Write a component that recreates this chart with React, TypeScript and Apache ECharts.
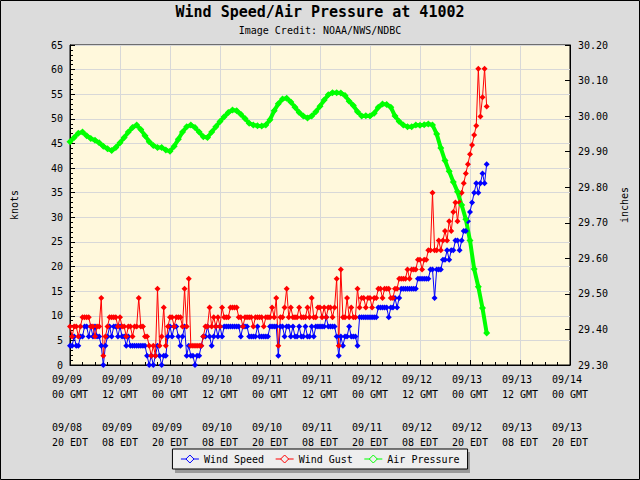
import React, { useEffect, useRef } from "react";
import * as echarts from "echarts";

const gmtDates = ["09/09", "09/09", "09/10", "09/10", "09/11", "09/11", "09/12", "09/12", "09/13", "09/13", "09/14"];
const gmtHours = ["00 GMT", "12 GMT", "00 GMT", "12 GMT", "00 GMT", "12 GMT", "00 GMT", "12 GMT", "00 GMT", "12 GMT", "00 GMT"];
const edtDates = ["09/08", "09/09", "09/09", "09/10", "09/10", "09/11", "09/11", "09/12", "09/12", "09/13", "09/13"];
const edtHours = ["20 EDT", "08 EDT", "20 EDT", "08 EDT", "20 EDT", "08 EDT", "20 EDT", "08 EDT", "20 EDT", "08 EDT", "20 EDT"];

// hours after 09/09 00 GMT between samples
const windStepHours = 0.5;
const pressureStepHours = 1;

// Wind speed, knots (every 30 min)
const windSpeed = [
  3.9, 3.9, 5.8, 3.9, 3.9, 5.8,
  5.8, 7.8, 7.8, 5.8, 7.8, 5.8, 7.8, 5.8, 5.8,
  3.9, 0, 3.9,
  5.8, 7.8, 5.8, 7.8, 7.8, 5.8, 7.8,
  5.8, 5.8, 3.9, 5.8,
  3.9, 3.9, 3.9, 3.9, 3.9, 3.9, 3.9, 3.9, 1.9,
  0, 1.9, 0,
  1.9, 3.9, 1.9,
  0,
  1.9, 1.9,
  5.8, 7.8, 5.8, 7.8, 7.8, 5.8, 3.9, 5.8, 7.8, 1.9,
  3.9, 1.9, 1.9, 0,
  1.9, 1.9, 3.9,
  5.8, 5.8, 7.8,
  5.8, 3.9, 5.8, 7.8, 5.8, 7.8, 5.8,
  7.8, 7.8, 7.8, 7.8, 7.8, 7.8, 7.8, 7.8, 5.8,
  7.8, 7.8, 7.8, 5.8,
  5.8, 5.8, 5.8, 7.8, 5.8, 5.8, 5.8, 5.8, 5.8,
  7.8, 7.8, 7.8, 7.8,
  1.9,
  7.8, 7.8, 5.8, 7.8, 7.8,
  5.8, 7.8, 5.8, 5.8, 7.8,
  5.8, 5.8, 7.8, 5.8, 5.8, 7.8, 5.8, 7.8, 7.8, 7.8,
  7.8, 7.8, 9.7, 7.8, 7.8, 7.8, 7.8, 5.8,
  1.9,
  5.8, 3.9, 5.8, 5.8, 7.8, 5.8, 5.8, 5.8, 3.9,
  9.7, 9.7, 9.7, 9.7, 9.7, 9.7, 9.7, 9.7, 9.7,
  11.7, 11.7, 11.7, 11.7, 11.7, 9.7, 11.7, 11.7,
  13.6, 11.7, 13.6,
  15.5, 15.5, 15.5, 15.5, 15.5, 15.5, 15.5, 15.5,
  17.5, 17.5, 17.5, 17.5, 17.5, 17.5,
  19.4, 19.4, 13.6, 19.4, 19.4,
  19.4, 21.4, 21.4, 23.3, 21.4,
  23.3, 23.3, 25.3, 25.3, 23.3, 25.3,
  27.2, 27.2,
  29.2, 31.1, 33.0, 35.0, 36.9, 35.0, 36.9, 38.9, 36.9, 40.8,
];

// Wind gust, knots (every 30 min)
const windGust = [
  7.8, 5.8, 7.8, 7.8, 5.8, 7.8,
  9.7, 9.7, 9.7, 9.7, 7.8,
  7.8, 5.8, 7.8, 7.8,
  13.6, 1.9, 5.8,
  7.8, 9.7, 9.7, 9.7, 9.7, 7.8, 9.7,
  7.8, 7.8, 5.8, 7.8, 7.8, 5.8, 7.8,
  7.8, 13.6,
  7.8, 7.8, 5.8, 5.8,
  3.9, 1.9, 3.9, 1.9, 15.5,
  3.9, 5.8, 11.7,
  3.9, 7.8,
  9.7, 9.7, 7.8, 9.7, 9.7, 9.7, 7.8,
  15.5, 7.8, 17.5,
  3.9, 3.9, 3.9, 3.9, 3.9, 3.9,
  5.8, 7.8, 7.8,
  11.7,
  7.8, 9.7, 7.8, 9.7, 7.8,
  11.7,
  9.7, 9.7, 9.7,
  11.7, 11.7, 11.7, 11.7,
  9.7, 9.7, 7.8, 9.7, 9.7, 9.7, 9.7, 7.8, 9.7, 9.7, 9.7, 9.7, 7.8, 9.7, 9.7, 9.7,
  11.7, 9.7, 13.6, 3.9,
  9.7, 9.7, 11.7, 15.5, 9.7, 11.7,
  9.7, 9.7, 9.7, 11.7, 9.7, 9.7, 9.7, 11.7,
  9.7, 13.6,
  9.7, 9.7, 11.7, 11.7, 9.7,
  11.7, 9.7, 11.7, 11.7, 9.7, 11.7,
  17.5, 3.9, 19.4,
  9.7, 9.7, 13.6, 9.7, 11.7, 9.7, 9.7, 15.5,
  11.7, 13.6, 13.6, 11.7, 13.6, 13.6, 11.7, 13.6, 13.6,
  15.5, 15.5, 13.6, 15.5, 15.5, 15.5, 13.6, 13.6,
  15.5, 15.5, 17.5,
  17.5, 17.5, 17.5, 19.4, 17.5, 19.4,
  19.4, 19.4, 21.4, 21.4, 19.4, 21.4,
  21.4, 23.3, 23.3, 35.0,
  23.3, 23.3, 25.3, 23.3,
  25.3, 27.2, 25.3, 29.2,
  27.2, 31.1, 33.0, 29.2,
  33.0, 35.0, 36.9,
  38.9, 40.8,
  42.8, 44.7,
  46.7, 48.6,
  60.2, 50.5, 54.4, 60.2, 52.5,
];

// Air pressure, inches (hourly)
const airPressure = [
  29.928, 29.94, 29.952, 29.955, 29.945, 29.937, 29.932, 29.925, 29.915, 29.908,
  29.903, 29.912, 29.925, 29.94, 29.955, 29.968, 29.975, 29.962, 29.945, 29.928,
  29.917, 29.912, 29.912, 29.905, 29.901, 29.915, 29.935, 29.955, 29.97, 29.975,
  29.968, 29.955, 29.942, 29.94, 29.955, 29.97, 29.985, 29.998, 30.01, 30.017,
  30.015, 30.005, 29.993, 29.98, 29.975, 29.973, 29.972, 29.975, 29.99, 30.015,
  30.035, 30.048, 30.05, 30.04, 30.025, 30.01, 30.0, 29.995, 30.0, 30.012,
  30.028, 30.045, 30.06, 30.066, 30.066, 30.065, 30.058, 30.042, 30.03, 30.012,
  30.0, 30.001, 30.0, 30.008, 30.025, 30.034, 30.033, 30.025, 30.0, 29.985,
  29.975, 29.97, 29.97, 29.975, 29.974, 29.976, 29.978, 29.975, 29.95, 29.91,
  29.875, 29.845, 29.815, 29.787, 29.75, 29.71, 29.65, 29.57, 29.52, 29.46,
  29.39,
];

const FONT = "DejaVu Sans Mono";
const NB = "\u00a0";
const seriesNames = ["Wind Speed", "Wind Gust", "Air Pressure"];
const seriesColors = ["#0000ff", "#ff0000", "#00ff00"];

export default function App() {
  const ref = useRef<HTMLDivElement>(null);
  useEffect(() => {
    const chart = echarts.init(ref.current!, null, { renderer: "svg" });
    const ws = windSpeed.map((v, i) => [i * windStepHours, v]);
    const wg = windGust.map((v, i) => [i * windStepHours, v]);
    const ap = airPressure.map((v, i) => [i * pressureStepHours, v]);
    const lineSeries = (
      name: string,
      color: string,
      data: number[][],
      yIndex: number,
      size: number,
      width: number
    ) => ({
      name,
      type: "line",
      yAxisIndex: yIndex,
      data,
      symbol: "diamond",
      symbolSize: size,
      showAllSymbol: true,
      lineStyle: { color, width },
      itemStyle: { color },
      emphasis: { disabled: true },
    });
    chart.setOption({
      animation: false,
      backgroundColor: "#dcdcdc",
      textStyle: { fontFamily: FONT },
      title: {
        text: "Wind Speed/Air Pressure at 41002",
        subtext: "Image Credit: NOAA/NWS/NDBC",
        left: "center",
        top: -1,
        itemGap: 6,
        textStyle: { fontFamily: FONT, fontSize: 15, fontWeight: "bold", color: "#000" },
        subtextStyle: { fontFamily: FONT, fontSize: 10, color: "#000" },
      },
      legend: {
        top: 449,
        left: "center",
        padding: [5, 8],
        itemGap: 11,
        itemWidth: 18,
        itemHeight: 10,
        backgroundColor: "#eeeeee",
        borderColor: "#000",
        borderWidth: 1,
        textStyle: { fontFamily: FONT, fontSize: 10, color: "#000" },
        data: seriesNames.map((n, i) => ({
          name: n,
          itemStyle: { color: "#eeeeee", borderColor: seriesColors[i], borderWidth: 1 },
          lineStyle: { color: seriesColors[i], width: 1 },
        })),
      },
      graphic: [
        {
          type: "rect",
          z: 1,
          shape: { x: 175, y: 452, width: 295, height: 21 },
          style: { fill: "#9a9a9a" },
        },
        {
          type: "rect",
          z: 1,
          shape: { x: 0.5, y: 0.5, width: 639, height: 479 },
          style: { fill: "none", stroke: "#000", lineWidth: 1 },
        },
      ],
      grid: {
        left: 70,
        right: 70,
        top: 45,
        bottom: 115,
        show: true,
        backgroundColor: "#fff8dc",
        borderColor: "#000",
        borderWidth: 1,
      },
      xAxis: {
        type: "value",
        min: 0,
        max: 120,
        interval: 12,
        axisLine: { lineStyle: { color: "#000" } },
        axisTick: { inside: true, length: 5, lineStyle: { color: "#000" } },
        minorTick: { show: true, splitNumber: 4, length: 3, lineStyle: { color: "#000" } },
        splitLine: { show: true, lineStyle: { color: "#d8d8d8", width: 1 } },
        axisLabel: {
          margin: 7,
          color: "#000",
          fontFamily: FONT,
          fontSize: 10,
          lineHeight: 15,
          formatter: (v: number) => {
            const k = Math.round(v / 12);
            return `${gmtDates[k]}${NB}\n${gmtHours[k]}\n{g|${NB}}\n${edtDates[k]}${NB}\n${edtHours[k]}`;
          },
          rich: {
            g: { fontFamily: FONT, fontSize: 10, lineHeight: 18 },
          },
        },
      },
      yAxis: [
        {
          type: "value",
          min: 0,
          max: 65,
          interval: 5,
          name: "knots",
          nameLocation: "middle",
          nameGap: 51,
          nameTextStyle: { fontFamily: FONT, fontSize: 10, color: "#000" },
          axisLine: { show: true, lineStyle: { color: "#000" } },
          axisTick: { show: true, inside: true, length: 5, lineStyle: { color: "#000" } },
          minorTick: { show: true, splitNumber: 5, length: 3, lineStyle: { color: "#000" } },
          splitLine: { show: true, lineStyle: { color: "#d8d8d8", width: 1 } },
          axisLabel: { margin: 7, color: "#000", fontFamily: FONT, fontSize: 10 },
        },
        {
          type: "value",
          min: 29.3,
          max: 30.2,
          interval: 0.1,
          name: "inches",
          nameLocation: "middle",
          nameGap: 48,
          nameTextStyle: { fontFamily: FONT, fontSize: 10, color: "#000" },
          axisLine: { show: true, lineStyle: { color: "#000" } },
          axisTick: { show: true, inside: true, length: 5, lineStyle: { color: "#000" } },
          splitLine: { show: false },
          axisLabel: {
            margin: 8,
            color: "#000",
            fontFamily: FONT,
            fontSize: 10,
            formatter: (v: number) => v.toFixed(2),
          },
        },
      ],
      series: [
        lineSeries(seriesNames[0], seriesColors[0], ws, 0, 6, 1),
        lineSeries(seriesNames[1], seriesColors[1], wg, 0, 6, 1),
        lineSeries(seriesNames[2], seriesColors[2], ap, 1, 7, 4),
      ],
    });
    return () => chart.dispose();
  }, []);
  return <div ref={ref} style={{ position: "fixed", left: 0, top: 0, width: 640, height: 480 }} />;
}
